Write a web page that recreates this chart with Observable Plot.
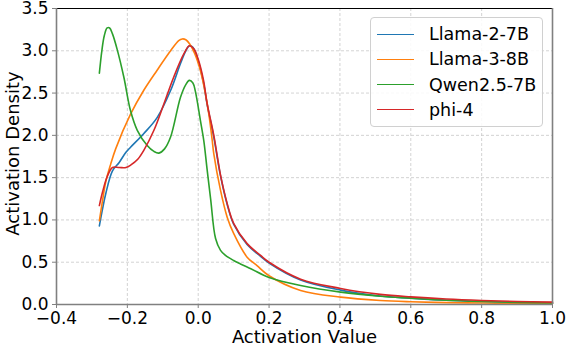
<!DOCTYPE html>
<html>
<head>
<meta charset="utf-8">
<script src="https://cdn.jsdelivr.net/npm/d3@7"></script>
<script src="https://cdn.jsdelivr.net/npm/@observablehq/plot@0.6"></script>
<style>
  html, body { margin: 0; padding: 0; background: #fff; }
  #wrap { position: relative; width: 566px; height: 346px; font-family: "DejaVu Sans", sans-serif; }
  #legend { position: absolute; left: 370px; top: 17px; width: 173px; height: 110px; box-sizing: border-box;
    border: 1px solid #d0d0d0; border-radius: 4px; background: rgba(255,255,255,0.85); }
  .row { position: absolute; left: 0; height: 20px; display: flex; align-items: center; font-size: 17.5px; color: #000; }
  .swatch { width: 37px; height: 0; border-top: 1.6px solid; margin-left: 6px; margin-right: 15px; }
</style>
</head>
<body>
<div id="wrap"><div id="chart"></div><div id="legend"></div></div>
<script>
const seriesNames = ["Llama-2-7B", "Llama-3-8B", "Qwen2.5-7B", "phi-4"];
const seriesColors = ["#1f77b4", "#ff7f0e", "#2ca02c", "#d62728"];

const llama2X = [-0.279,-0.27,-0.261,-0.242,-0.223,-0.204,-0.191,-0.154,-0.116,-0.078,-0.05,-0.035,-0.025,-0.015,0.0,0.015,0.025,0.044,0.063,0.082,0.1,0.138,0.176,0.2,0.289,0.402,0.514,0.6,0.7,0.8,0.9,1.0];
const llama2Y = [0.93,1.13,1.31,1.58,1.68,1.80,1.86,2.02,2.21,2.53,2.85,3.00,3.06,3.04,2.88,2.62,2.37,1.98,1.52,1.18,0.95,0.71,0.57,0.49,0.29,0.17,0.10,0.075,0.05,0.035,0.025,0.018];

const llama3X = [-0.279,-0.27,-0.261,-0.247,-0.233,-0.191,-0.154,-0.116,-0.078,-0.055,-0.045,-0.035,-0.024,-0.01,0.006,0.02,0.03,0.039,0.044,0.063,0.082,0.1,0.138,0.166,0.2,0.289,0.402,0.514,0.6,0.7,0.8,0.9,1.0];
const llama3Y = [0.99,1.23,1.45,1.66,1.84,2.25,2.53,2.77,3.00,3.12,3.14,3.13,3.08,2.97,2.77,2.50,2.25,1.96,1.78,1.35,1.03,0.84,0.56,0.46,0.34,0.166,0.087,0.047,0.032,0.022,0.017,0.014,0.012];

const qwenX = [-0.279,-0.272,-0.265,-0.257,-0.25,-0.242,-0.229,-0.21,-0.191,-0.172,-0.144,-0.125,-0.111,-0.095,-0.078,-0.05,-0.035,-0.025,-0.015,-0.008,0.006,0.016,0.025,0.035,0.049,0.063,0.077,0.1,0.119,0.15,0.2,0.289,0.402,0.514,0.6,0.7,0.8,0.9,1.0];
const qwenY = [2.735,3.0,3.18,3.27,3.27,3.2,3.02,2.69,2.29,2.06,1.88,1.81,1.79,1.84,1.98,2.45,2.6,2.65,2.62,2.52,2.18,1.93,1.6,1.25,0.78,0.64,0.58,0.52,0.48,0.42,0.32,0.225,0.146,0.098,0.075,0.05,0.035,0.025,0.018];

const phi4X = [-0.279,-0.27,-0.257,-0.242,-0.223,-0.204,-0.19,-0.17,-0.154,-0.125,-0.097,-0.069,-0.041,-0.025,-0.012,0.0,0.015,0.025,0.044,0.063,0.082,0.1,0.138,0.176,0.2,0.289,0.402,0.514,0.6,0.7,0.8,0.9,1.0];
const phi4Y = [1.17,1.33,1.51,1.62,1.62,1.62,1.65,1.72,1.82,2.06,2.37,2.69,2.96,3.06,3.02,2.9,2.65,2.38,2.0,1.53,1.19,0.96,0.72,0.58,0.50,0.30,0.19,0.12,0.09,0.065,0.048,0.036,0.028];

const xTicks = [-0.4,-0.2,0.0,0.2,0.4,0.6,0.8,1.0];
const yTicks = [0.0,0.5,1.0,1.5,2.0,2.5,3.0,3.5];
const xLabel = "Activation Value";
const yLabel = "Activation Density";

const seriesXs = [llama2X, llama3X, qwenX, phi4X];
const seriesYs = [llama2Y, llama3Y, qwenY, phi4Y];
const rows = [];
seriesNames.forEach((name, i) => {
  seriesXs[i].forEach((x, j) => rows.push({series: name, x, y: seriesYs[i][j]}));
});

const fmt = d3.format(".1f");
const chart = Plot.plot({
  width: 566, height: 346,
  marginTop: 8, marginRight: 14, marginBottom: 42, marginLeft: 56,
  style: {fontFamily: "DejaVu Sans, sans-serif", fontSize: "17px", color: "#000", background: "#fff", overflow: "visible"},
  x: {domain: [-0.4, 1.0], ticks: xTicks, tickFormat: fmt},
  y: {domain: [0, 3.5], ticks: yTicks, tickFormat: fmt},
  color: {domain: seriesNames, range: seriesColors},
  marks: [
    Plot.gridX(xTicks, {stroke: "#c8c8c8", strokeOpacity: 1, strokeDasharray: "3,2", strokeWidth: 0.8}),
    Plot.gridY(yTicks, {stroke: "#c8c8c8", strokeOpacity: 1, strokeDasharray: "3,2", strokeWidth: 0.8}),
    Plot.line(rows, {x: "x", y: "y", z: "series", stroke: "series", strokeWidth: 1.6, curve: "catmull-rom"}),
    Plot.ruleY([3.5], {stroke: "#000", strokeWidth: 1.2}),
    Plot.ruleX([-0.4, 1.0], {stroke: "#808080", strokeWidth: 1.6}),
    Plot.ruleY([0], {stroke: "#808080", strokeWidth: 1.6}),
    Plot.axisX(xTicks, {tickFormat: fmt, tickSize: 4, tickPadding: 3, stroke: "#808080", label: null, fill: "#000"}),
    Plot.axisY(yTicks, {tickFormat: fmt, tickSize: 4, tickPadding: 4, stroke: "#808080", label: null, fill: "#000"}),
    Plot.text([xLabel], {frameAnchor: "bottom", lineAnchor: "middle", textAnchor: "middle", dy: 33, fontSize: 18, fill: "#000"}),
    Plot.text([yLabel], {frameAnchor: "left", lineAnchor: "middle", textAnchor: "middle", dx: -43, dy: -3, rotate: -90, fontSize: 18, fill: "#000"})
  ]
});
document.getElementById("chart").appendChild(chart);

const legend = document.getElementById("legend");
seriesNames.forEach((name, i) => {
  const row = document.createElement("div");
  row.className = "row";
  row.style.top = (6 + i * 25.3) + "px";
  const sw = document.createElement("span");
  sw.className = "swatch";
  sw.style.borderColor = seriesColors[i];
  const t = document.createElement("span");
  t.textContent = name;
  row.appendChild(sw); row.appendChild(t);
  legend.appendChild(row);
});
</script>
</body>
</html>
